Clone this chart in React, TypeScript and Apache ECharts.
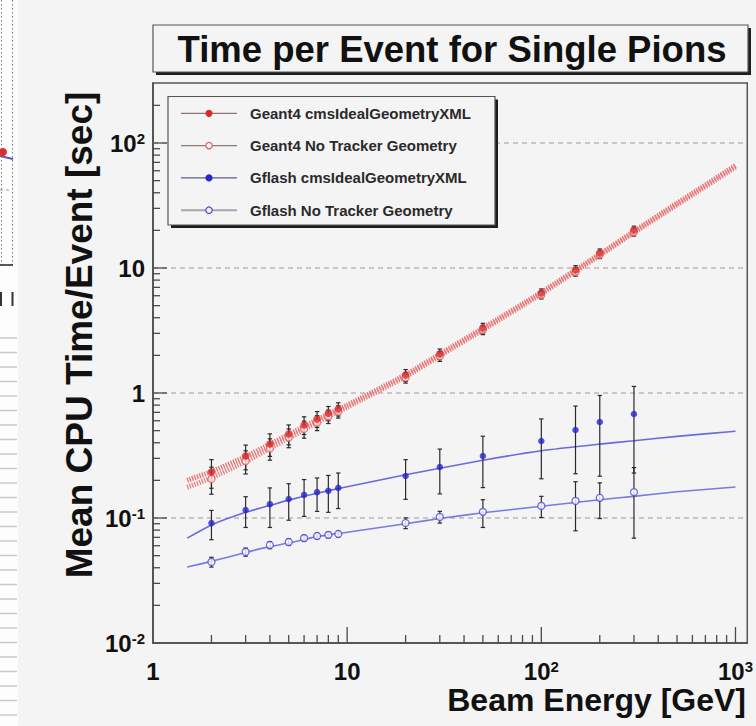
import React, { useEffect, useRef } from 'react';
import * as echarts from 'echarts';

const FONT = '"Liberation Sans", Arial, Helvetica, sans-serif';

// ---- data ----
const seriesNames = [
  'Geant4 cmsIdealGeometryXML',
  'Geant4 No Tracker Geometry',
  'Gflash cmsIdealGeometryXML',
  'Gflash No Tracker Geometry',
];

const energies = [2, 3, 4, 5, 6, 7, 8, 9, 20, 30, 50, 100, 150, 200, 300];

const g4IdealTime = [0.233, 0.313, 0.391, 0.47, 0.555, 0.62, 0.69, 0.745, 1.39, 2.05, 3.31, 6.3, 9.64, 13.2, 20.1];
const g4IdealErr = [0.06, 0.07, 0.08, 0.085, 0.09, 0.09, 0.09, 0.09, 0.15, 0.2, 0.3, 0.5, 0.8, 1.0, 1.5];
const g4NoTrkTime = [0.205, 0.285, 0.36, 0.44, 0.515, 0.58, 0.65, 0.71, 1.33, 1.97, 3.2, 6.1, 9.3, 12.8, 19.4];
const g4NoTrkErr = [0.05, 0.06, 0.07, 0.075, 0.08, 0.08, 0.08, 0.08, 0.13, 0.18, 0.27, 0.45, 0.7, 0.9, 1.4];
const gfIdealTime = [0.091, 0.116, 0.129, 0.142, 0.153, 0.161, 0.165, 0.174, 0.217, 0.256, 0.313, 0.413, 0.506, 0.586, 0.679];
const gfIdealErr = [0.024, 0.032, 0.045, 0.046, 0.05, 0.048, 0.054, 0.055, 0.076, 0.1, 0.138, 0.207, 0.28, 0.37, 0.45];
const gfNoTrkTime = [0.0445, 0.0535, 0.0608, 0.0643, 0.069, 0.0718, 0.0733, 0.0745, 0.0912, 0.102, 0.112, 0.125, 0.137, 0.145, 0.161];
const gfNoTrkErr = [0.004, 0.004, 0.004, 0.004, 0.004, 0.004, 0.004, 0.004, 0.009, 0.011, 0.028, 0.024, 0.058, 0.046, 0.092];

// fit curves
const fitEnergies = [1.5, 2, 3, 4, 5, 7, 10, 20, 30, 50, 100, 200, 300, 500, 1000];
const g4IdealFit = [0.2, 0.235, 0.31, 0.39, 0.465, 0.61, 0.8, 1.4, 2.05, 3.3, 6.4, 12.9, 19.6, 33, 66];
const g4NoTrkFit = [0.176, 0.21, 0.283, 0.36, 0.435, 0.58, 0.77, 1.35, 1.98, 3.2, 6.2, 12.6, 19.2, 32, 64];
const gfIdealFit = [0.069, 0.088, 0.111, 0.126, 0.139, 0.158, 0.178, 0.222, 0.25, 0.29, 0.345, 0.39, 0.415, 0.45, 0.495];
const gfNoTrkFit = [0.0405, 0.045, 0.053, 0.059, 0.063, 0.071, 0.077, 0.09, 0.099, 0.11, 0.124, 0.14, 0.149, 0.162, 0.177];

// axes
const xRange = [1, 1150];
const yRange = [0.01, 302];
const xMajorTicks = [1, 10, 100, 1000];
const xTickLabels = ['1', '10', '10^2', '10^3'];
const yMajorTicks = [0.01, 0.1, 1, 10, 100];
const yTickLabels = ['10^-2', '10^-1', '1', '10', '10^2'];
const minorMultipliers = [2, 3, 4, 5, 6, 7, 8, 9];
const gridLineValues = [0.1, 1, 10, 100];

const titleText = 'Time per Event for Single Pions';
const xTitle = 'Beam Energy [GeV]';
const yTitle = 'Mean CPU Time/Event [sec]';

// ---- helpers ----
const pairs = (xs: number[], ys: number[]) => xs.map((x, i) => [x, ys[i]]);
const bars = (ys: number[], es: number[]) => energies.map((x, i) => [x, ys[i] - es[i], ys[i] + es[i]]);

const minorValues = (majors: number[], lo: number, hi: number) => {
  const out: number[] = [];
  majors.forEach((m) => minorMultipliers.forEach((k) => {
    const v = m * k;
    if (v > lo && v < hi) out.push(v);
  }));
  return out;
};

const toRich = (s: string) => {
  const parts = s.split('^');
  return parts.length > 1 ? `{b|${parts[0]}}{s|${parts[1]}}` : `{b|${parts[0]}}`;
};

const makeFormatter = (ticks: number[], labels: string[]) => (v: number) => {
  for (let i = 0; i < ticks.length; i++) {
    if (Math.abs(Math.log10(v) - Math.log10(ticks[i])) < 1e-6) return toRich(labels[i]);
  }
  return '';
};

const labelRich = {
  b: { fontSize: 24, fontWeight: 'bold', fontFamily: FONT, color: '#111', lineHeight: 24, verticalAlign: 'middle' },
  s: { fontSize: 15, fontWeight: 'bold', fontFamily: FONT, color: '#111', lineHeight: 12, verticalAlign: 'top' },
};

const AXIS_COLOR = '#4a4a4a';

const tickSeries = (values: number[], dir: 'x' | 'y', len: number) => ({
  type: 'custom',
  coordinateSystem: 'cartesian2d',
  silent: true,
  clip: false,
  z: 6,
  data: values.map((v) => (dir === 'y' ? [xRange[0], v] : [v, yRange[0]])),
  encode: { x: 0, y: 1 },
  renderItem: (_p: any, api: any) => {
    const pt = api.coord([api.value(0), api.value(1)]);
    const shape = dir === 'y'
      ? { x1: pt[0], y1: pt[1], x2: pt[0] + len, y2: pt[1] }
      : { x1: pt[0], y1: pt[1], x2: pt[0], y2: pt[1] - len };
    return { type: 'line', shape, style: { stroke: AXIS_COLOR, lineWidth: 1.3 } };
  },
});

const errSeries = (ys: number[], es: number[]) => ({
  type: 'custom',
  coordinateSystem: 'cartesian2d',
  silent: true,
  z: 3,
  data: bars(ys, es),
  encode: { x: 0, y: [1, 2] },
  renderItem: (_p: any, api: any) => {
    const lo = api.coord([api.value(0), api.value(1)]);
    const hi = api.coord([api.value(0), api.value(2)]);
    const w = 2.2;
    const st = { stroke: '#2a2a2a', lineWidth: 1.2 };
    return {
      type: 'group',
      children: [
        { type: 'line', shape: { x1: lo[0], y1: lo[1], x2: hi[0], y2: hi[1] }, style: st },
        { type: 'line', shape: { x1: lo[0] - w, y1: lo[1], x2: lo[0] + w, y2: lo[1] }, style: st },
        { type: 'line', shape: { x1: hi[0] - w, y1: hi[1], x2: hi[0] + w, y2: hi[1] }, style: st },
      ],
    };
  },
});

const fitSeries = (ys: number[], color: string, width: number, dash: any) => ({
  type: 'line',
  data: pairs(fitEnergies, ys),
  showSymbol: false,
  silent: true,
  smooth: 0.2,
  z: 2,
  lineStyle: { color, width, type: dash },
});

const RED = '#dc2a2a';
const RED_OPEN = '#e06060';
const BLUE = '#2626d0';
const BLUE_OPEN = '#4a4ae0';
const BG = '#f4f4f4';

// ---- decorations: sliver of neighbouring window on the left ----
const stripes: any[] = [];
for (let y = 338; y < 726; y += 14.5) {
  stripes.push({ type: 'line', shape: { x1: 0, y1: y, x2: 17, y2: y }, style: { stroke: '#c8c8c8', lineWidth: 1.5 } });
}
const leftStrip: any[] = [
  { type: 'rect', shape: { x: 0, y: 0, width: 18, height: 726 }, style: { fill: '#fdfdfd' } },
  { type: 'line', shape: { x1: 1.5, y1: 0, x2: 1.5, y2: 265 }, style: { stroke: '#777', lineWidth: 1, lineDash: [1.5, 2.5] } },
  { type: 'line', shape: { x1: 12.5, y1: 0, x2: 12.5, y2: 265 }, style: { stroke: '#777', lineWidth: 1, lineDash: [1.5, 2.5] } },
  { type: 'line', shape: { x1: 0, y1: 190, x2: 12, y2: 190 }, style: { stroke: '#999', lineWidth: 1, lineDash: [3, 3] } },
  { type: 'line', shape: { x1: 0, y1: 265, x2: 13, y2: 265 }, style: { stroke: '#222', lineWidth: 1.5 } },
  { type: 'line', shape: { x1: 0, y1: 156, x2: 13, y2: 159 }, style: { stroke: '#6a50b0', lineWidth: 2 } },
  { type: 'circle', shape: { cx: 3, cy: 152, r: 4 }, style: { fill: '#d63030' } },
  { type: 'rect', shape: { x: 0, y: 292, width: 2, height: 14 }, style: { fill: '#333' } },
  { type: 'rect', shape: { x: 11.5, y: 292, width: 2, height: 14 }, style: { fill: '#333' } },
  ...stripes,
];

// ---- title & legend boxes ----
const titleBox: any[] = [
  { type: 'rect', z: 50, shape: { x: 156, y: 28, width: 595, height: 47 }, style: { fill: '#1e1e1e' } },
  { type: 'rect', z: 51, shape: { x: 153, y: 25, width: 595, height: 47 }, style: { fill: BG, stroke: '#555', lineWidth: 1.2 } },
  {
    type: 'text', z: 52, x: 452, y: 49,
    style: { text: titleText, fontSize: 36.5, fontWeight: 'bold', fontFamily: FONT, fill: '#111', align: 'center', verticalAlign: 'middle' },
  },
];

const legendRows = [
  { line: '#8a7474', marker: { fill: RED, stroke: RED, r: 3 } },
  { line: '#8a7a7a', marker: { fill: BG, stroke: RED_OPEN, r: 3.2 } },
  { line: '#5c5c86', marker: { fill: BLUE, stroke: BLUE, r: 3 } },
  { line: '#a6a6b4', marker: { fill: BG, stroke: BLUE_OPEN, r: 3.2 } },
];
const legendBox: any[] = [
  { type: 'rect', z: 50, shape: { x: 171, y: 99.5, width: 327, height: 128.5 }, style: { fill: '#1e1e1e' } },
  { type: 'rect', z: 51, shape: { x: 168, y: 96.5, width: 327, height: 128.5 }, style: { fill: BG, stroke: '#555', lineWidth: 1.2 } },
];
legendRows.forEach((row, i) => {
  const y = 113.3 + i * 32.3;
  legendBox.push(
    { type: 'line', z: 52, shape: { x1: 181, y1: y, x2: 237, y2: y }, style: { stroke: row.line, lineWidth: i === 3 ? 2 : 1.3 } },
    { type: 'circle', z: 53, shape: { cx: 209, cy: y, r: row.marker.r }, style: { fill: row.marker.fill, stroke: row.marker.stroke, lineWidth: 1.2 } },
    {
      type: 'text', z: 53, x: 250, y,
      style: { text: seriesNames[i], fontSize: 15, fontWeight: 'bold', fontFamily: FONT, fill: '#2a2a2a', align: 'left', verticalAlign: 'middle' },
    },
  );
});

const axisTitles: any[] = [
  {
    type: 'text', z: 20, x: 79, y: 335, rotation: Math.PI / 2,
    style: { text: yTitle, fontSize: 37, fontWeight: 'bold', fontFamily: FONT, fill: '#111', align: 'center', verticalAlign: 'middle' },
  },
  {
    type: 'text', z: 20, x: 746, y: 700,
    style: { text: xTitle, fontSize: 32, fontWeight: 'bold', fontFamily: FONT, fill: '#111', align: 'right', verticalAlign: 'middle' },
  },
];

const option: any = {
  animation: false,
  backgroundColor: BG,
  grid: {
    left: 153, right: 8, top: 83, bottom: 83,
    show: true, borderColor: '#555', borderWidth: 1.5, backgroundColor: BG,
  },
  xAxis: {
    type: 'log', logBase: 10, min: xRange[0], max: xRange[1],
    axisLine: { show: true, lineStyle: { color: AXIS_COLOR, width: 1.5 } },
    axisTick: { show: false },
    splitLine: { show: false },
    axisLabel: { formatter: makeFormatter(xMajorTicks, xTickLabels), rich: labelRich, margin: 16, showMinLabel: true },
  },
  yAxis: {
    type: 'log', logBase: 10, min: yRange[0], max: yRange[1],
    axisLine: { show: true, lineStyle: { color: AXIS_COLOR, width: 1.5 } },
    axisTick: { show: false },
    splitLine: { show: false },
    axisLabel: { formatter: makeFormatter(yMajorTicks, yTickLabels), rich: labelRich, margin: 8, showMinLabel: true },
  },
  graphic: [...leftStrip, ...titleBox, ...legendBox, ...axisTitles],
  series: [
    {
      type: 'custom', coordinateSystem: 'cartesian2d', silent: true, z: 1,
      data: gridLineValues.map((v) => [xRange[0], v]),
      encode: { x: 0, y: 1 },
      renderItem: (params: any, api: any) => {
        const pt = api.coord([api.value(0), api.value(1)]);
        const cs = params.coordSys;
        return {
          type: 'line',
          shape: { x1: cs.x, y1: pt[1], x2: cs.x + cs.width, y2: pt[1] },
          style: { stroke: '#9a9a9a', lineWidth: 1, lineDash: [5, 4] },
        };
      },
    },
    fitSeries(g4IdealFit, '#e77070', 5, [1.3, 1.3]),
    fitSeries(g4NoTrkFit, '#e88080', 5, [1.3, 1.3]),
    fitSeries(gfIdealFit, '#6a6ade', 1.6, 'solid'),
    fitSeries(gfNoTrkFit, '#7a7ae2', 1.6, 'solid'),
    errSeries(g4IdealTime, g4IdealErr),
    errSeries(g4NoTrkTime, g4NoTrkErr),
    errSeries(gfIdealTime, gfIdealErr),
    errSeries(gfNoTrkTime, gfNoTrkErr),
    {
      name: seriesNames[1], type: 'scatter', z: 4, symbol: 'circle', symbolSize: 7,
      data: pairs(energies, g4NoTrkTime),
      itemStyle: { color: '#f7f0f0', borderColor: RED_OPEN, borderWidth: 1.3 },
    },
    {
      name: seriesNames[0], type: 'scatter', z: 5, symbol: 'circle', symbolSize: 7.5,
      data: pairs(energies, g4IdealTime),
      itemStyle: { color: RED },
    },
    {
      name: seriesNames[3], type: 'scatter', z: 4, symbol: 'circle', symbolSize: 7,
      data: pairs(energies, gfNoTrkTime),
      itemStyle: { color: '#ffffff', borderColor: BLUE_OPEN, borderWidth: 1.3 },
    },
    {
      name: seriesNames[2], type: 'scatter', z: 5, symbol: 'circle', symbolSize: 6.5,
      data: pairs(energies, gfIdealTime),
      itemStyle: { color: BLUE },
    },
    tickSeries(yMajorTicks.slice(1), 'y', 14),
    tickSeries(minorValues([0.01, 0.1, 1, 10, 100], yRange[0], yRange[1] * 0.9), 'y', 7),
    tickSeries(xMajorTicks.slice(1), 'x', 16),
    tickSeries(minorValues([1, 10, 100], xRange[0], xRange[1]), 'x', 8),
  ],
};

export default function App() {
  const ref = useRef<HTMLDivElement>(null);
  useEffect(() => {
    const chart = echarts.init(ref.current!, undefined, { renderer: 'svg' });
    chart.setOption(option);
    return () => chart.dispose();
  }, []);
  return (
    <div
      ref={ref}
      style={{ position: 'fixed', left: 0, top: 0, width: 756, height: 726, background: BG }}
    />
  );
}
